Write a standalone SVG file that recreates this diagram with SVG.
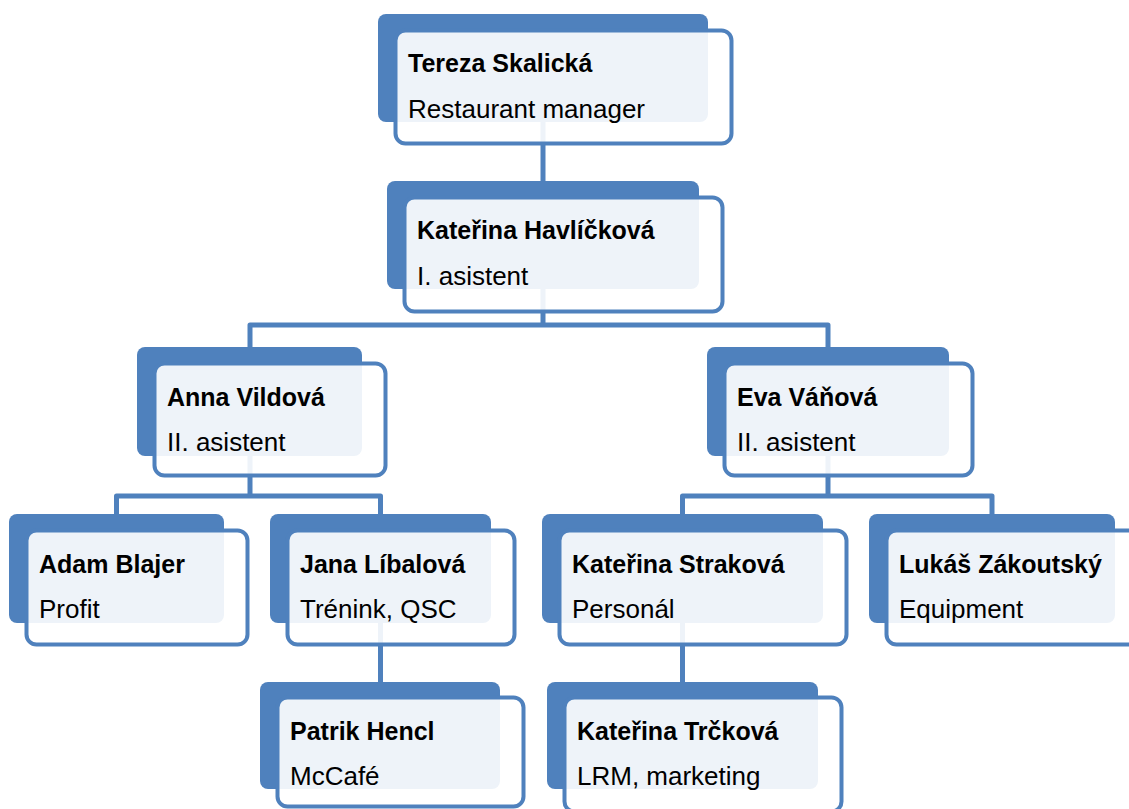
<svg xmlns="http://www.w3.org/2000/svg" width="1129" height="809" viewBox="0 0 1129 809">
<style>
.back{fill:#4F81BD;}
.front{fill:#FFFFFF;fill-opacity:0.9;stroke:#4F81BD;stroke-width:4;}
.conn{fill:none;stroke:#4F81BD;stroke-width:5;stroke-linejoin:round;}
.name{font-family:"Liberation Sans",Arial,sans-serif;font-weight:bold;font-size:25px;fill:#000;}
.role{font-family:"Liberation Sans",Arial,sans-serif;font-size:26px;fill:#000;}
</style>
<rect width="1129" height="809" fill="#FFFFFF"/>
<g id="connectors">
<path class="conn" d="M543,100 V190"/>
<path class="conn" d="M543,280 V325 M250,355 V325 H828 V355"/>
<path class="conn" d="M250,440 V496 M116.5,520 V496 H380.5 V520"/>
<path class="conn" d="M828,440 V496 M682.5,520 V496 H992 V520"/>
<path class="conn" d="M380.5,610 V690"/>
<path class="conn" d="M682.5,610 V690"/>
</g>
<g id="n1">
<rect class="back" x="378" y="14" width="330" height="108" rx="8"/>
<rect class="front" x="395.5" y="30.5" width="336" height="113" rx="10"/>
<text class="name" x="408" y="72">Tereza Skalická</text>
<text class="role" x="408" y="118">Restaurant manager</text>
</g>
<g id="n2">
<rect class="back" x="387" y="181" width="312" height="108" rx="8"/>
<rect class="front" x="404.5" y="197.5" width="318" height="114" rx="10"/>
<text class="name" x="417" y="239">Kateřina Havlíčková</text>
<text class="role" x="417" y="285">I. asistent</text>
</g>
<g id="n3">
<rect class="back" x="137" y="347" width="225" height="109" rx="8"/>
<rect class="front" x="154.5" y="363.5" width="231" height="112" rx="10"/>
<text class="name" x="167" y="406">Anna Vildová</text>
<text class="role" x="167" y="451">II. asistent</text>
</g>
<g id="n4">
<rect class="back" x="707" y="347" width="242" height="109" rx="8"/>
<rect class="front" x="724.5" y="363.5" width="248" height="112" rx="10"/>
<text class="name" x="737" y="406">Eva Váňová</text>
<text class="role" x="737" y="451">II. asistent</text>
</g>
<g id="n5">
<rect class="back" x="9" y="514" width="215" height="109" rx="8"/>
<rect class="front" x="26.5" y="530.5" width="221" height="114" rx="10"/>
<text class="name" x="39" y="573">Adam Blajer</text>
<text class="role" x="39" y="618">Profit</text>
</g>
<g id="n6">
<rect class="back" x="270" y="514" width="221" height="109" rx="8"/>
<rect class="front" x="287.5" y="530.5" width="227" height="114" rx="10"/>
<text class="name" x="300" y="573">Jana Líbalová</text>
<text class="role" x="300" y="618">Trénink, QSC</text>
</g>
<g id="n7">
<rect class="back" x="542" y="514" width="281" height="109" rx="8"/>
<rect class="front" x="559.5" y="530.5" width="287" height="114" rx="10"/>
<text class="name" x="572" y="573">Kateřina Straková</text>
<text class="role" x="572" y="618">Personál</text>
</g>
<g id="n8">
<rect class="back" x="869" y="514" width="246" height="109" rx="8"/>
<rect class="front" x="886.5" y="530.5" width="252" height="114" rx="10"/>
<text class="name" x="899" y="573">Lukáš Zákoutský</text>
<text class="role" x="899" y="618">Equipment</text>
</g>
<g id="n9">
<rect class="back" x="260" y="682" width="240" height="107" rx="8"/>
<rect class="front" x="277.5" y="697.5" width="246" height="109" rx="10"/>
<text class="name" x="290" y="740">Patrik Hencl</text>
<text class="role" x="290" y="785">McCafé</text>
</g>
<g id="n10">
<rect class="back" x="547" y="682" width="271" height="107" rx="8"/>
<rect class="front" x="564.5" y="697.5" width="277" height="114" rx="10"/>
<text class="name" x="577" y="740">Kateřina Trčková</text>
<text class="role" x="577" y="785">LRM, marketing</text>
</g>
</svg>
